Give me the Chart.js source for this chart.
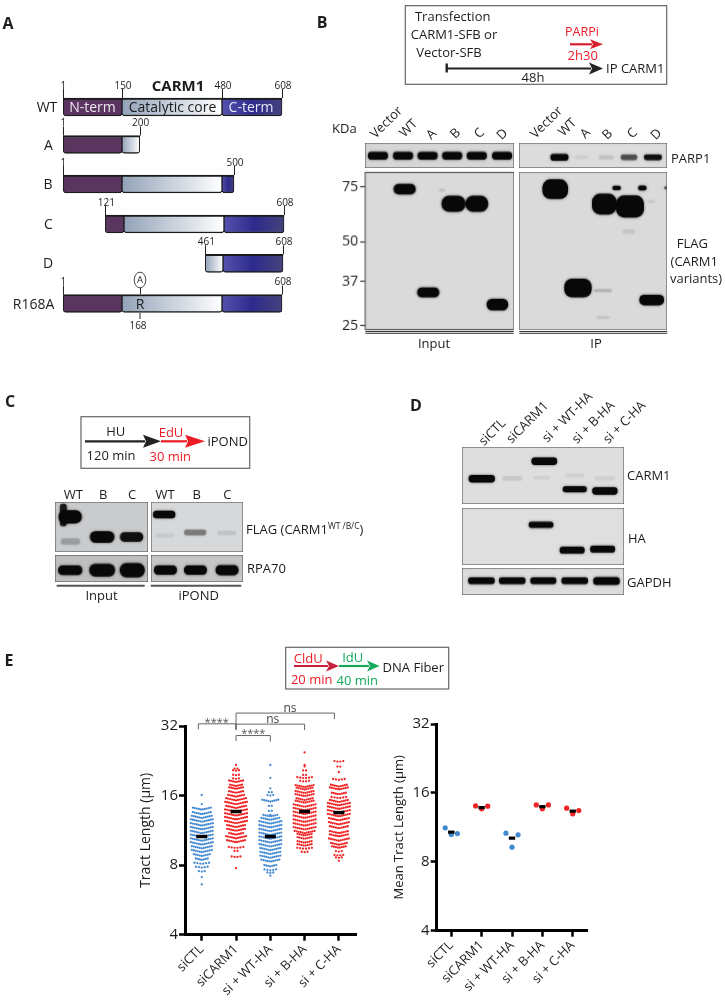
<!DOCTYPE html>
<html>
<head>
<meta charset="utf-8">
<title>CARM1 figure</title>
<script src="https://cdn.jsdelivr.net/npm/chart.js@4"></script>
<style>
  html, body { margin: 0; background: #fff; }
  #page { position: relative; width: 725px; height: 1000px; overflow: hidden; font-family: "Open Sans", sans-serif; color: #1c1c1c; }
  #page canvas { position: absolute; }
  #page svg { position: absolute; left: 0; top: 0; }
  .t { position: absolute; white-space: nowrap; line-height: 1; transform: translate(-50%, -50%); }
  .l { transform: translate(0, -50%); }
  sup { font-size: 0.65em; vertical-align: 0.5em; line-height: 0; }
</style>
</head>
<body>
<div id="page"><svg id="ink" width="725" height="1000"></svg></div>
<script>
/* ==========================================
   DATA — panel A (CARM1 constructs)
   ========================================== */
const rowNames  = ['WT', 'A', 'B', 'C', 'D', 'R168A'];
const rowPos    = [107, 144.5, 184, 224, 263.3, 303.5];
const rowShift  = [0, 0, 0, 2, 1, 0];
const rowTicks  = [[1, 150, 480, 608], [1, 200], [1, 500], [121, 608], [461, 608], [1, 608]];
// the drawing is schematic, so residues do not sit on a straight ruler
const drawnPos  = { 1: 63.3, 121: 103.3, 150: 122, 200: 139.7, 461: 204.3, 480: 222, 500: 234, 608: 282 };

const nTermRows  = [0, 1, 2, 3, 5];
const nTermStart = [1, 1, 1, 121, 1];
const nTermEnd   = [150, 150, 150, 150, 150];
const coreRows   = [0, 1, 2, 3, 4, 5];
const coreStart  = [150, 150, 150, 150, 461, 150];
const coreEnd    = [480, 200, 480, 480, 480, 480];
const cTermRows  = [0, 2, 3, 4, 5];
const cTermStart = [480, 480, 480, 480, 480];
const cTermEnd   = [608, 500, 608, 608, 608];

/* ==========================================
   DATA — blots: [lane, migration %, thickness %, width in lanes, density]
   ========================================== */
const ladderPos = [9.3, 44, 69.4, 97.4];
const ladderKda = ['75', '50', '37', '25'];

const parpInput = [[0.52, 51, 28, 0.78, 1], [1.53, 51, 28, 0.78, 1], [2.52, 51, 28, 0.78, 1], [3.51, 51, 28, 0.78, 1], [4.5, 51, 28, 0.78, 1], [5.52, 51, 28, 0.78, 1]];
const parpIp    = [[1.64, 57, 24, 0.7, 1], [2.53, 57, 12, 0.5, 0.04], [3.54, 57, 14, 0.6, 0.08], [4.46, 57, 20, 0.65, 0.5], [5.43, 57, 20, 0.7, 0.9]];
const flagInput = [[1.59, 10.6, 6.3, 0.86, 1], [3.56, 19.9, 9.7, 0.94, 1], [4.5, 19.9, 9.7, 0.89, 1], [2.54, 76.3, 5.9, 0.86, 1], [5.33, 84.1, 7, 0.84, 1], [3.09, 11.2, 1.5, 0.2, 0.08]];
const flagIp    = [[1.47, 10.9, 12, 1.01, 1], [3.46, 20.3, 12.7, 0.97, 1], [4.5, 21.8, 13.5, 1.1, 1], [2.39, 73.4, 11.4, 1.08, 1], [5.38, 81, 6.3, 0.97, 1],
                   [3.96, 10.1, 2.3, 0.31, 1], [5, 10.1, 2.5, 0.31, 1], [5.95, 10, 1.5, 0.08, 0.6], [3.4, 75, 1.5, 0.7, 0.12], [3.4, 92, 1.5, 0.5, 0.06], [4.45, 37.6, 2.5, 0.5, 0.06], [5.36, 18.6, 1.5, 0.3, 0.05]];

const iFlagInput = [[0.49, 29.6, 25, 0.72, 1], [0.27, 26, 44, 0.2, 0.8], [0.5, 79, 12, 0.6, 0.15], [1.52, 70, 22, 0.76, 1], [2.47, 70, 18, 0.72, 0.9]];
const iFlagPond  = [[0.43, 25, 14, 0.7, 1], [0.45, 67, 8, 0.6, 0.04], [1.44, 61, 11, 0.7, 0.3], [2.47, 62, 8, 0.6, 0.06]];
const rpaInput   = [[0.49, 56, 33, 0.75, 1], [1.52, 56, 45, 0.8, 1], [2.49, 56, 50, 0.78, 1]];
const rpaPond    = [[0.47, 56, 32, 0.72, 1], [1.45, 56, 32, 0.72, 1], [2.48, 56, 35, 0.72, 1]];

const carm1Blot = [[0.61, 55.5, 12, 0.79, 1], [1.55, 55, 7, 0.6, 0.06], [2.54, 25, 12, 0.77, 1], [2.45, 54, 5, 0.5, 0.04], [3.48, 74, 9.5, 0.72, 1], [3.48, 50, 6, 0.6, 0.04], [4.41, 77, 12, 0.76, 1], [4.41, 55, 6, 0.6, 0.04]];
const haBlot    = [[2.44, 29.4, 9.5, 0.74, 1], [3.4, 74, 11, 0.75, 1], [4.34, 72, 11, 0.75, 1]];
const gapdhBlot = [[0.6, 47, 22, 0.8, 1], [1.55, 47, 22, 0.8, 1], [2.51, 47, 22, 0.78, 1], [3.48, 47, 22, 0.8, 1], [4.46, 48, 27, 0.8, 1]];

/* ==========================================
   DATA — panel E
   ========================================== */
const categories = ['siCTL', 'siCARM1', 'si + WT-HA', 'si + B-HA', 'si + C-HA'];
const yTicks     = [4, 8, 16, 32];
const groupIsRed = [false, true, false, true, true];

// rows of the swarm: tract length and how many fibers sit on that row
const ctlLevels = [6.6, 7.1, 7.5, 7.8, 8.1, 8.43, 8.76, 9.1, 9.45, 9.81, 10.19, 10.58, 10.99, 11.42, 11.86, 12.32, 12.79, 13.29, 13.9, 14.7, 16.1];
const ctlCounts = [1, 1, 3, 5, 6, 7, 9, 11, 11, 12, 12, 12, 12, 12, 12, 12, 11, 10, 10, 1, 1];
const carmLevels = [7.76, 8.66, 9.2, 9.48, 10.05, 10.44, 10.84, 11.26, 11.69, 12.14, 12.61, 13.1, 13.6, 14.13, 14.67, 15.24, 15.83, 16.44, 17.1, 17.6, 18.3, 18.9, 19.6, 20.5, 20.9, 21.7];
const carmCounts = [1, 4, 2, 6, 10, 11, 8, 10, 10, 12, 12, 12, 12, 11, 12, 11, 9, 8, 8, 7, 8, 3, 3, 3, 2, 1];
const wtLevels = [7.2, 7.4, 7.6, 7.9, 8.28, 8.6, 8.93, 9.28, 9.63, 10.01, 10.39, 10.79, 11.21, 11.64, 12.09, 12.56, 13, 13.2, 13.7, 14.4, 15.07, 16, 16.5, 17.2, 19.1, 21.7];
const wtCounts = [1, 3, 5, 7, 10, 11, 11, 11, 12, 12, 12, 12, 12, 12, 12, 10, 8, 1, 2, 2, 9, 3, 2, 1, 1, 1];
const bLevels = [9.1, 9.4, 9.7, 10, 10.4, 10.75, 11, 11.4, 11.85, 12.3, 12.8, 13.3, 13.8, 14.3, 14.9, 15.3, 15.9, 16.4, 17, 17.4, 18.4, 19, 19.6, 20.5, 21.4, 21.7, 24.6];
const bCounts = [3, 6, 8, 8, 8, 8, 11, 12, 12, 12, 12, 12, 12, 12, 10, 9, 10, 10, 9, 10, 4, 6, 2, 2, 1, 1, 1];
const cLevels = [8.35, 8.6, 8.8, 9.16, 9.5, 9.8, 10.2, 10.65, 11, 11.55, 12, 12.5, 13, 13.5, 14, 14.5, 15, 15.6, 16.2, 17, 17.5, 18.7, 20.2, 21.3, 22.4];
const cCounts = [1, 3, 4, 3, 8, 9, 11, 10, 10, 10, 11, 11, 12, 12, 12, 12, 10, 6, 8, 10, 9, 5, 1, 2, 4];
const swarmLevels = [ctlLevels, carmLevels, wtLevels, bLevels, cLevels];
const swarmCounts = [ctlCounts, carmCounts, wtCounts, bCounts, cCounts];
const tractMeans  = [10.64, 13.65, 10.64, 13.65, 13.5];

const replicateValues = [[11.26, 10.53, 10.63], [14.04, 13.63, 14], [10.67, 9.27, 10.49], [14.18, 13.63, 14.18], [13.72, 12.96, 13.39]];
const replicateMeans  = [10.78, 13.8, 10.15, 13.93, 13.32];

const bracketFrom  = [-0.1, 1, 1, 1];
const bracketTo    = [1, 2, 3, 3.87];
const bracketLevel = [32.7, 29.1, 32.6, 36.4];

/* ==========================================
   HELPERS
   ========================================== */
const page = document.getElementById('page');
const ink  = document.getElementById('ink');
const FONT = '"Open Sans", sans-serif';
const RED = '#ee1c25', GREEN = '#16a85a', BLUE = '#4389d0', SWARM_RED = '#ef2424';

Chart.defaults.animation = false;
Chart.defaults.responsive = false;
Chart.defaults.font.family = FONT;
Chart.defaults.plugins.legend.display = false;
Chart.defaults.plugins.tooltip.enabled = false;

function addCanvas(left, top, w, h) {
  const c = document.createElement('canvas');
  c.width = w; c.height = h;
  c.style.left = left + 'px'; c.style.top = top + 'px';
  c.style.width = w + 'px'; c.style.height = h + 'px';
  page.insertBefore(c, ink);
  return c;
}

function label(text, x, y, size, opts = {}) {
  const e = document.createElement('div');
  e.className = 't' + (opts.left ? ' l' : '');
  e.innerHTML = text;
  e.style.left = x + 'px'; e.style.top = y + 'px';
  e.style.fontSize = size + 'px';
  if (opts.color) e.style.color = opts.color;
  if (opts.bold) e.style.fontWeight = 700;
  if (opts.rot) e.style.transform = `translate(-50%, -50%) rotate(${opts.rot}deg)`;
  page.appendChild(e);
}

function svg(tag, attrs) {
  const e = document.createElementNS('http://www.w3.org/2000/svg', tag);
  Object.keys(attrs).forEach(k => e.setAttribute(k, attrs[k]));
  ink.appendChild(e);
}
const line = (x1, y1, x2, y2, stroke = '#222', w = 1.5) => svg('line', { x1, y1, x2, y2, stroke, 'stroke-width': w });
const box  = (x, y, w, h) => svg('rect', { x, y, width: w, height: h, fill: 'none', stroke: '#666', 'stroke-width': 1.2 });

function arrow(x1, x2, headFrom, y, color, half = 5, w = 2.2) {
  line(x1, y, headFrom + 2, y, color, w);
  svg('path', { d: `M${headFrom} ${y - half} L${x2} ${y} L${headFrom} ${y + half} L${headFrom + 3} ${y} Z`, fill: color });
}

/* ==========================================
   BLOTS
   ========================================== */
const blurPlugin = {
  id: 'bandBlur',
  beforeDatasetsDraw(c) { c.ctx.save(); c.ctx.shadowBlur = 2.5; c.ctx.shadowColor = 'rgba(0,0,0,0.7)'; },
  afterDatasetsDraw(c)  { c.ctx.restore(); }
};
const gelPlugin = {
  id: 'gel',
  beforeDraw(c, _a, o) {
    const a = c.chartArea;
    c.ctx.fillStyle = o.bg;
    c.ctx.fillRect(a.left, a.top, a.width, a.height);
  },
  afterDraw(c) {
    const a = c.chartArea;
    c.ctx.strokeStyle = '#5c5c5c';
    c.ctx.lineWidth = 1.2;
    c.ctx.strokeRect(a.left, a.top, a.width, a.height);
  }
};

function blot(l, t, w, h, laneCount, bands, bg, withLadder) {
  const spacing = w / laneCount;
  const pad = withLadder ? 10 : 0, axisW = withLadder ? 40 : 0;
  const datasets = bands.map(([lane, pos, th, wid, dens]) => ({
    data: [{ x: lane, y: [pos - th / 2, pos + th / 2] }],
    barThickness: wid * spacing,
    backgroundColor: `rgba(8,8,8,${dens})`,
    borderRadius: Math.min(th / 100 * h / 2, 8),
    borderSkipped: false
  }));
  return new Chart(addCanvas(l - axisW, t - pad, w + axisW, h + pad * 2), {
    type: 'bar',
    data: { datasets },
    plugins: [gelPlugin, blurPlugin],
    options: {
      grouped: false,
      layout: { padding: { top: pad, bottom: pad } },
      plugins: { gel: { bg } },
      scales: {
        x: { type: 'linear', min: 0, max: laneCount, offset: false, display: false },
        y: {
          type: 'linear', min: 0, max: 100, reverse: true, display: !!withLadder,
          afterFit: s => { s.width = axisW; },
          afterBuildTicks: s => { s.ticks = ladderPos.map(value => ({ value })); },
          border: { display: false },
          grid: { drawOnChartArea: false, tickLength: 5, tickColor: '#333', tickWidth: 1.2 },
          ticks: { color: '#1c1c1c', font: { size: 14 }, padding: 2, callback: v => ladderKda[ladderPos.indexOf(v)] }
        }
      }
    }
  });
}

blot(365.3, 143.3, 148.4, 24.7, 6, parpInput, '#d6d6d6');
blot(519.3, 143.3, 148, 24.7, 6, parpIp, '#dcdcdc');
blot(365.3, 172.3, 148.4, 157.7, 6, flagInput, '#dadada', true);
blot(519.3, 172.3, 148, 157.7, 6, flagIp, '#dadada');

blot(55.3, 501.7, 92.7, 50.7, 3, iFlagInput, '#c9cbcd');
blot(150.7, 501.7, 92.7, 50.7, 3, iFlagPond, '#d6d8da');
blot(55.3, 555, 92.7, 26.7, 3, rpaInput, '#bfbfbf');
blot(150.7, 555, 92.7, 26.7, 3, rpaPond, '#c6c6c6');

blot(462.3, 446.7, 162, 57, 5, carm1Blot, '#dedede');
blot(462.3, 508.3, 162, 56.7, 5, haBlot, '#dfdfdf');
blot(462.3, 568.3, 162, 26.4, 5, gapdhBlot, '#dcdcdc');

/* ==========================================
   PANEL A — construct bars
   ========================================== */
const resPx = (res, row) => drawnPos[res] + rowShift[row];
const segs = (rows, from, to) => rows.map((row, i) => ({ x: [resPx(from[i], row), resPx(to[i], row)], y: rowPos[row] }));

function barGradient(c, stops) {
  const sc = c.chart.scales.x;
  if (!sc || !c.raw) return stops[0];
  const x0 = sc.getPixelForValue(c.raw.x[0]), x1 = sc.getPixelForValue(c.raw.x[1]);
  if (!isFinite(x0) || !isFinite(x1)) return stops[0];
  const g = c.chart.ctx.createLinearGradient(x0, 0, x1, 0);
  stops.forEach((col, i) => g.addColorStop(i / (stops.length - 1), col));
  return g;
}
const barStyle = {
  barThickness: 18,
  borderColor: '#1b1b1b',
  borderWidth: { top: 2, bottom: 1.5, left: 1, right: 1 },
  borderRadius: { bottomLeft: 3, bottomRight: 3, topLeft: 0, topRight: 0 },
  borderSkipped: false
};
const endTicks = {
  id: 'endTicks',
  afterDatasetsDraw(c) {
    const ctx = c.ctx;
    ctx.strokeStyle = '#222'; ctx.lineWidth = 1;
    rowTicks.forEach((list, row) => list.forEach(res => {
      const px = Math.round(c.scales.x.getPixelForValue(resPx(res, row))) + 0.5;
      const py = c.scales.y.getPixelForValue(rowPos[row]) - 9;
      ctx.beginPath(); ctx.moveTo(px, py - 9); ctx.lineTo(px, py); ctx.stroke();
    }));
  }
};
const constructChart = new Chart(addCanvas(50, 85, 250, 245), {
  type: 'bar',
  data: {
    datasets: [
      { ...barStyle, data: segs(nTermRows, nTermStart, nTermEnd), backgroundColor: '#5a3560' },
      { ...barStyle, data: segs(coreRows, coreStart, coreEnd), backgroundColor: c => barGradient(c, ['#93a3b8', '#c9d1dc', '#ffffff']) },
      { ...barStyle, data: segs(cTermRows, cTermStart, cTermEnd), backgroundColor: c => barGradient(c, ['#5552ad', '#2c2b8c', '#46427c']) }
    ]
  },
  plugins: [endTicks],
  options: {
    indexAxis: 'y',
    grouped: false,
    scales: {
      x: { type: 'linear', min: 50, max: 300, display: false },
      y: { type: 'linear', min: 85, max: 330, reverse: true, offset: false, display: false }
    }
  }
});

rowTicks.forEach((list, row) => list.forEach(res => {
  const px = constructChart.scales.x.getPixelForValue(resPx(res, row)) + 50;
  label(String(res), px + (res === 1 ? 0 : 1), rowPos[row] - 22.5, 10);
}));
[47, 48.5, 48, 48.5, 48, 33.5].forEach((x, row) => label(rowNames[row], x, rowPos[row], 14));

label('A', 8, 23, 16, { bold: true });
label('CARM1', 178, 84.5, 15, { bold: true });
label('N-term', 92.5, 107, 14, { color: '#eee6ee' });
label('Catalytic core', 172.5, 107, 14);
label('C-term', 251, 107, 14, { color: '#e6e6f6' });
label('R', 140, 304, 14);
label('168', 138, 324.5, 10);
svg('ellipse', { cx: 140, cy: 280, rx: 5.8, ry: 7.8, fill: '#fff', stroke: '#333', 'stroke-width': 0.9 });
label('A', 140, 280, 9.5);
line(140.5, 288, 140.5, 294, '#222', 1);
line(140, 313, 140, 319, '#222', 1);

/* ==========================================
   PANEL B — scheme and labels
   ========================================== */
label('B', 322, 22, 16, { bold: true });
box(405.3, 5.7, 261.4, 78.6);
label('Transfection', 452.7, 16.3, 13);
label('CARM1-SFB or', 454, 34, 13);
label('Vector-SFB', 449, 52, 13);
label('PARPi', 582, 32, 12.5, { color: RED });
label('2h30', 582.7, 55, 13, { color: RED });
label('48h', 533, 77, 13);
label('IP CARM1', 635.3, 67.5, 13);
arrow(447, 603, 589, 68.5, '#222', 6);
line(446.7, 63.5, 446.7, 72.5, '#222', 2.4);
arrow(570, 603, 590, 44.3, '#d9202e', 5);

label('KDa', 344.3, 128, 13);
[['Vector', 386, 122.3], ['WT', 407.7, 128.3], ['A', 431, 134], ['B', 455, 133.3], ['C', 479.3, 132.7], ['D', 502, 134],
 ['Vector', 546, 122.3], ['WT', 567.3, 126.7], ['A', 585, 132.7], ['B', 607.3, 134], ['C', 631.7, 133.3], ['D', 656, 134]]
  .forEach(([t, x, y]) => label(t, x, y, 13, { rot: -45 }));
label('PARP1', 690.7, 157.5, 13);
label('FLAG', 692.3, 243, 13);
label('(CARM1', 694.3, 260.5, 13);
label('variants)', 696, 278, 13);
line(365.3, 331.5, 513.7, 331.5, '#333', 1); line(365.3, 333.3, 513.7, 333.3, '#333', 1);
line(519.3, 331.5, 667.3, 331.5, '#333', 1); line(519.3, 333.3, 667.3, 333.3, '#333', 1);
label('Input', 434, 342.5, 13);
label('IP', 596, 343, 13);

/* ==========================================
   PANEL C — scheme and labels
   ========================================== */
label('C', 10, 401, 16, { bold: true });
box(81, 416.7, 168.7, 51.6);
label('HU', 115.7, 431, 13);
label('120 min', 111, 454.5, 13);
label('EdU', 171, 432, 13, { color: RED });
label('30 min', 170.3, 455.5, 13, { color: RED });
label('iPOND', 227.7, 441, 13);
arrow(85, 161, 143, 441.3, '#222', 6.5);
arrow(161, 205, 185, 441.3, RED, 6.5);
[['WT', 73.3], ['B', 103.3], ['C', 132], ['WT', 165], ['B', 196.7], ['C', 227.3]].forEach(([t, x]) => label(t, x, 494, 13));
label('FLAG (CARM1<sup>WT /B/C</sup>)', 246, 529, 13, { left: true });
label('RPA70', 247, 568, 13, { left: true });
line(56.7, 585.7, 144.7, 585.7, '#555', 2);
line(150.7, 585.7, 241.3, 585.7, '#555', 2);
label('Input', 101.5, 595, 13);
label('iPOND', 198.7, 595, 13);

/* ==========================================
   PANEL D — labels
   ========================================== */
label('D', 416, 405, 16, { bold: true });
[['siCTL', 491.7, 431.7], ['siCARM1', 526.7, 422.3], ['si + WT-HA', 566.7, 417.3], ['si + B-HA', 593.3, 421.7], ['si + C-HA', 624.3, 422.3]]
  .forEach(([t, x, y]) => label(t, x, y, 13, { rot: -45 }));
label('CARM1', 627, 475, 13, { left: true });
label('HA', 628, 538, 13, { left: true });
label('GAPDH', 627, 581.5, 13, { left: true });

/* ==========================================
   PANEL E — scatter plots
   ========================================== */
label('E', 9, 660, 16, { bold: true });
box(285.7, 647.3, 163, 41.7);
label('CldU', 308.3, 658, 13, { color: RED });
label('20 min', 311.7, 679, 13, { color: RED });
label('IdU', 352.7, 657, 13, { color: GREEN });
label('40 min', 357.3, 680, 13, { color: GREEN });
label('DNA Fiber', 413.3, 666.5, 13);
arrow(294, 339, 326, 666, '#c9203c', 5.5);
arrow(339, 379.5, 367, 666, GREEN, 5.5);

const CHEVRON = 0.0065;
function swarmPoints(levels, counts, group) {
  const pts = [];
  levels.forEach((lv, r) => {
    const n = counts[r];
    const step = n < 7 ? 0.085 : 0.058;
    for (let k = 0; k < n; k++) {
      // middle of the row first, then outwards on both sides
      const rank = n % 2 ? Math.ceil(k / 2) : Math.floor(k / 2) + 0.5;
      const side = k % 2 ? -1 : 1;
      pts.push({ x: group + side * rank * step, y: lv * Math.pow(2, CHEVRON * rank) });
    }
  });
  return pts;
}

function axisOptions(xMin, xMax, yWidth, xHeight, title, titlePad, titleFont) {
  return {
    x: {
      type: 'linear', min: xMin, max: xMax, offset: false,
      afterFit: s => { s.height = xHeight; },
      afterBuildTicks: s => { s.ticks = categories.map((_, value) => ({ value })); },
      border: { color: '#000', width: 3 },
      grid: { drawOnChartArea: false, tickLength: 6, tickColor: '#000', tickWidth: 2.5 },
      ticks: { color: '#1c1c1c', font: { size: 13 }, minRotation: 45, maxRotation: 45, autoSkip: false, padding: 1, callback: v => categories[v] }
    },
    y: {
      type: 'logarithmic', min: 4, max: 32,
      afterFit: s => { s.width = yWidth; },
      afterBuildTicks: s => { s.ticks = yTicks.map(value => ({ value })); },
      border: { color: '#000', width: 3 },
      grid: { drawOnChartArea: false, tickLength: 6, tickColor: '#000', tickWidth: 2.5 },
      title: { display: true, text: title, color: '#1c1c1c', font: { size: titleFont }, padding: { top: titlePad, bottom: 0 } },
      ticks: { color: '#1c1c1c', font: { size: 15 }, padding: 1, callback: v => String(v) }
    }
  };
}

const bracketPlugin = {
  id: 'brackets',
  afterDraw(c) {
    const ctx = c.ctx, X = c.scales.x, Y = c.scales.y;
    ctx.strokeStyle = '#666'; ctx.lineWidth = 1;
    bracketFrom.forEach((from, i) => {
      const x1 = X.getPixelForValue(from), x2 = X.getPixelForValue(bracketTo[i]);
      const y = Y.getPixelForValue(bracketLevel[i]);
      const leftEnd = Math.max(y + 5.5, Y.getPixelForValue(31));
      ctx.beginPath();
      ctx.moveTo(x1, leftEnd); ctx.lineTo(x1, y); ctx.lineTo(x2, y); ctx.lineTo(x2, y + 6);
      ctx.stroke();
    });
  }
};

new Chart(addCanvas(130, 700, 235, 300), {
  type: 'scatter',
  data: {
    datasets: [
      ...swarmLevels.map((levels, g) => ({
        data: swarmPoints(levels, swarmCounts[g], g),
        pointRadius: 1.15, pointBorderWidth: 0,
        pointBackgroundColor: groupIsRed[g] ? SWARM_RED : BLUE
      })),
      {
        data: tractMeans.map((y, x) => ({ x, y })),
        order: -1,
        pointStyle: 'line', pointRadius: 5.5, pointBorderWidth: 3.5, pointBorderColor: '#000'
      }
    ]
  },
  plugins: [bracketPlugin],
  options: {
    clip: false,
    layout: { padding: { top: 26 } },
    scales: axisOptions(-0.49, 4.5, 55, 65.3, 'Tract Length (µm)', 8, 14)
  }
});

// replicate means: lowest in the middle, the other two either side
function replicatePoints(vals, g) {
  const low = Math.min(...vals);
  let side = -1;
  return vals.map(y => {
    if (y === low) return { x: g, y };
    const p = { x: g + side * 0.2, y };
    side = 1;
    return p;
  });
}

new Chart(addCanvas(386, 700, 209, 300), {
  type: 'scatter',
  data: {
    datasets: [
      ...replicateValues.map((vals, g) => ({
        data: replicatePoints(vals, g),
        pointRadius: 2.6, pointBorderWidth: 0,
        pointBackgroundColor: groupIsRed[g] ? SWARM_RED : BLUE
      })),
      {
        data: replicateMeans.map((y, x) => ({ x, y })),
        order: -1,
        pointStyle: 'line', pointRadius: 3.2, pointBorderWidth: 3.2, pointBorderColor: '#000'
      }
    ]
  },
  options: {
    clip: false,
    layout: { padding: { top: 24, right: 8 } },
    scales: axisOptions(-0.48, 4.47, 50.7, 69.3, 'Mean Tract Length (µm)', 5, 13)
  }
});

label('****', 216.7, 720.5, 11, { color: '#555' });
label('ns', 290, 707.5, 12, { color: '#444' });
label('ns', 272.7, 719, 12, { color: '#444' });
label('****', 253.3, 731.5, 11, { color: '#555' });
</script>
</body>
</html>
